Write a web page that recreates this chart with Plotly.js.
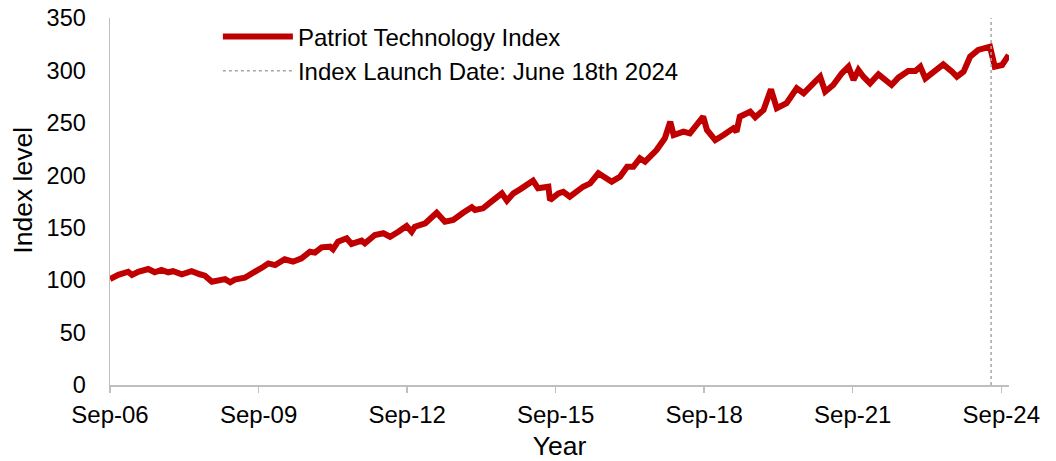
<!DOCTYPE html>
<html><head><meta charset="utf-8">
<script src="https://cdn.plot.ly/plotly-3.0.1.min.js"></script>
<style>html,body{margin:0;padding:0;background:#fff}#chart{width:1056px;height:461px}</style>
</head><body><div id="chart"></div>
<script>
const dates = [
'2006-09-01','2006-11-01','2007-01-13','2007-02-10','2007-03-28','2007-06-10','2007-07-28','2007-09-15','2007-11-04','2007-12-10',
'2008-02-13','2008-04-25','2008-06-25','2008-08-01','2008-09-22','2008-11-10','2008-12-28','2009-02-04','2009-03-10','2009-05-22',
'2009-07-22','2009-10-07','2009-11-12','2010-01-01','2010-03-13','2010-05-13','2010-07-15','2010-09-15','2010-10-22','2010-12-10',
'2011-02-10','2011-03-04','2011-04-10','2011-06-13','2011-07-19','2011-08-25','2011-10-01','2011-10-25','2012-01-07','2012-03-10',
'2012-04-28','2012-06-28','2012-08-28','2012-10-04','2012-10-28','2013-01-13','2013-04-07','2013-06-07','2013-08-07','2013-10-19',
'2013-12-22','2014-01-15','2014-03-15','2014-05-15','2014-08-01','2014-09-07','2014-10-25','2014-12-13','2015-01-19','2015-03-19',
'2015-04-25','2015-07-10','2015-07-22','2015-09-22','2015-10-28','2015-12-15','2016-03-22','2016-05-13','2016-07-13','2016-10-19',
'2016-12-19','2017-02-10','2017-03-28','2017-05-15','2017-06-22','2017-09-15','2017-11-15','2017-12-25','2018-01-19','2018-04-01',
'2018-05-19','2018-07-07','2018-08-25','2018-09-22','2018-11-22','2019-01-22','2019-04-04','2019-04-28','2019-05-22','2019-08-07',
'2019-09-13','2019-11-13','2020-01-07','2020-02-19','2020-05-01','2020-07-15','2020-09-04','2020-11-15','2021-01-04','2021-02-10',
'2021-04-10','2021-06-13','2021-08-01','2021-09-07','2021-10-13','2021-11-19','2022-01-07','2022-03-10','2022-04-28','2022-06-15',
'2022-08-04','2022-10-15','2022-12-07','2023-01-13','2023-02-19','2023-05-01','2023-07-01','2023-09-04','2023-10-10','2023-11-28',
'2024-01-15','2024-03-15','2024-05-04','2024-06-10','2024-07-15','2024-09-07','2024-10-01','2024-10-25'
];
const indexLevels = [
101,105,108,105,108,110.6,107.5,109.7,107.5,108.5,
105.6,108.5,105.6,104.3,98.5,100,101,98,100.5,102.3,
106.5,112.8,116,114.4,119.9,117.6,120.8,127.1,126.2,131.3,
131.9,129.4,136.7,139.9,134.5,136.7,137.6,135.1,143,144.7,
141.4,146.2,151.6,146.2,151,154.2,164.3,155.7,157.4,164.3,
169.5,166.9,168.5,174.8,182.8,175.8,182.8,186.6,189.8,194.8,
187.6,189.1,176.4,182.8,184.3,179.6,189.1,192.3,201.9,193.9,
198.6,208.2,208.2,216.2,213,224.1,235.3,251.1,238.4,241.6,
240,248,255.9,243.2,233.6,238.4,244.8,241.6,255.9,260.6,
255.3,262.3,282,263.9,268.7,283,278.2,287.7,294,279.7,
286.1,297.3,303.6,290.9,300.4,294,287.7,296.3,290.9,286.1,
293.1,299.4,299.4,303.6,292.4,300.4,305.7,298.8,294,298.8,
313.1,319.5,321.1,322.6,303.6,305.2,309.9,314.7
];
const launchDate = '2024-06-18';
const launchSpan = [0, 350];
const xTickDates = ['2006-09-01','2009-09-01','2012-09-01','2015-09-01','2018-09-01','2021-09-01','2024-09-01'];
const xTickLabels = ['Sep-06','Sep-09','Sep-12','Sep-15','Sep-18','Sep-21','Sep-24'];
const yTicks = [0,50,100,150,200,250,300,350];

const FONT = 'Liberation Sans, Arial, sans-serif';
const traces = [
  {x: dates, y: indexLevels, type: 'scatter', mode: 'lines', name: 'Patriot Technology Index',
   line: {color: '#C00000', width: 6}},
  {x: [launchDate, launchDate], y: launchSpan, type: 'scatter', mode: 'lines', name: 'Index Launch Date: June 18th 2024',
   line: {color: '#A6A6A6', width: 1.5, dash: 'dot'}}
];
const layout = {
  width: 1056, height: 461,
  margin: {l: 110, r: 47, t: 18, b: 76},
  paper_bgcolor: '#fff', plot_bgcolor: '#fff',
  font: {family: FONT, size: 23, color: '#000'},
  showlegend: true,
  legend: {x: 0.12, y: 1.01, xanchor: 'left', yanchor: 'top', bgcolor: 'rgba(0,0,0,0)',
           font: {family: FONT, size: 24, color: '#000'}, itemwidth: 70, tracegroupgap: 0},
  xaxis: {type: 'date', range: ['2006-09-01', '2024-10-28'], tickmode: 'array', tickvals: xTickDates, ticktext: xTickLabels,
          showgrid: false, zeroline: false, showline: true, linecolor: '#BFBFBF', linewidth: 1.5,
          ticks: 'outside', ticklen: 6, tickcolor: '#BFBFBF', tickwidth: 1.5, ticklabelstandoff: 2,
          tickfont: {family: FONT, size: 24, color: '#000'},
          title: {text: 'Year', font: {family: FONT, size: 26.5, color: '#000'}, standoff: 14}},
  yaxis: {range: [0, 350], tickmode: 'array', tickvals: yTicks, showgrid: false, zeroline: false,
          showline: true, linecolor: '#BFBFBF', linewidth: 1.5, ticks: '', ticklabelstandoff: 18,
          tickfont: {family: FONT, size: 23.5, color: '#000'}},
  annotations: [
    {text: 'Index level', xref: 'paper', yref: 'paper', x: -0.0962, y: 0.531, xanchor: 'center', yanchor: 'middle',
     textangle: -90, showarrow: false, font: {family: FONT, size: 26.5, color: '#000'}}
  ]
};
Plotly.newPlot('chart', traces, layout, {displayModeBar: false, staticPlot: true});
</script></body></html>
